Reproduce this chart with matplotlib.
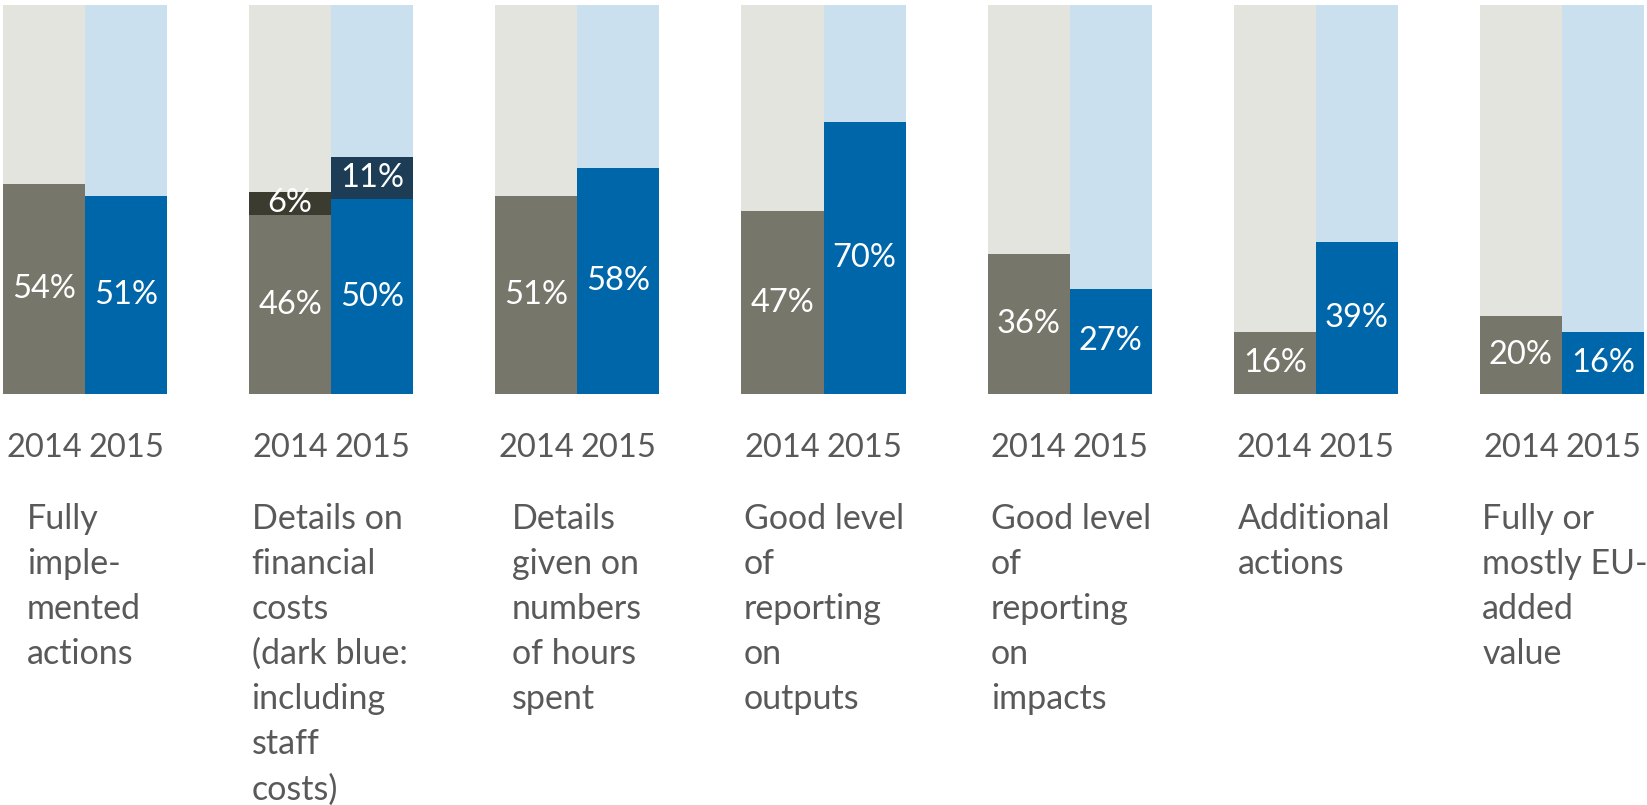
import numpy as np
import matplotlib
matplotlib.use('Agg')
import matplotlib.pyplot as plt

plt.rcParams['font.family'] = ['Lato', 'DejaVu Sans']

categories = ['Fully\nimple-\nmented\nactions',
              'Details on\nfinancial\ncosts\n(dark blue:\nincluding\nstaff\ncosts)',
              'Details\ngiven on\nnumbers\nof hours\nspent',
              'Good level\nof\nreporting\non\noutputs',
              'Good level\nof\nreporting\non\nimpacts',
              'Additional\nactions',
              'Fully or\nmostly EU-\nadded\nvalue']
years = ['2014', '2015']
v2014 = [54, 46, 51, 47, 36, 16, 20]
v2015 = [51, 50, 58, 70, 27, 39, 16]
# extra segment (staff costs) on top of the main value
x2014 = [0, 6, 0, 0, 0, 0, 0]
x2015 = [0, 11, 0, 0, 0, 0, 0]

c_main = ['#77766a', '#0066aa']
c_extra = ['#3b3b2f', '#1c3d55']
c_rest = ['#e3e4de', '#cae0ee']
txt_grey = '#595959'

fig = plt.figure(figsize=(16.47, 8.05), dpi=100)
ax = fig.add_axes([3 / 1647, (805 - 394) / 805, 1641 / 1647, 389 / 805])

n = len(categories)
gx = np.arange(n) * 3
for j, (main, extra) in enumerate([(v2014, x2014), (v2015, x2015)]):
    xs = gx + j + 0.5
    m = np.array(main) / 100
    e = np.array(extra) / 100
    ax.bar(xs, m, width=1, color=c_main[j], linewidth=0)
    ax.bar(xs, e, width=1, bottom=m, color=c_extra[j], linewidth=0)
    ax.bar(xs, 1 - m - e, width=1, bottom=m + e, color=c_rest[j], linewidth=0)
    for k in range(n):
        ax.text(xs[k], m[k] / 2, f'{main[k]}%', ha='center', va='center',
                color='white', fontsize=23.5)
        if extra[k]:
            ax.text(xs[k], m[k] + e[k] / 2, f'{extra[k]}%', ha='center',
                    va='center', color='white', fontsize=23.5)

ax.set_xlim(0, 3 * n - 1)
ax.set_ylim(0, 1)
ticks = np.concatenate([gx + 0.5, gx + 1.5])
ax.set_xticks(ticks)
ax.set_xticklabels([years[0]] * n + [years[1]] * n)
ax.tick_params(axis='x', length=0, pad=28, labelsize=23.5, labelcolor=txt_grey)
ax.set_yticks([])
for s in ax.spines.values():
    s.set_visible(False)

offs = [0.29, 0.03, 0.2, 0.03, 0.04, 0.05, 0.03]
for k, cat in enumerate(categories):
    ax.text(gx[k] + offs[k], -0.28, cat, ha='left', va='top', fontsize=24.5,
            color=txt_grey, linespacing=1.5, clip_on=False)

fig.savefig('out.png', dpi=100)
